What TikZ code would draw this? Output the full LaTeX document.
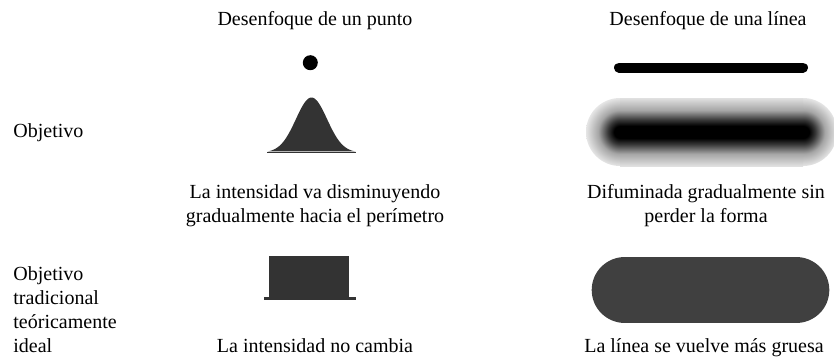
\documentclass[tikz,border=0pt]{standalone}
\usepackage{fontspec}
\setmainfont{Liberation Serif}
\usetikzlibrary{calc}

\pgfdeclareverticalshading{blurline}{100bp}{color(0bp)=(black!12); color(25bp)=(black!12); color(34bp)=(black!35); color(41bp)=(black!78); color(45.5bp)=(black); color(54.5bp)=(black); color(59bp)=(black!78); color(66bp)=(black!35); color(75bp)=(black!12); color(100bp)=(black!12)}
\pgfdeclareradialshading{blurend}{\pgfpoint{0bp}{0bp}}{color(0bp)=(black); color(4.5bp)=(black); color(9bp)=(black!78); color(16bp)=(black!35); color(25bp)=(black!10); color(50bp)=(black!10)}

\begin{document}
\begin{tikzpicture}[x=0.5pt, y=-0.5pt,
	lbl/.style={anchor=base, inner sep=0pt},
	ink/.style={fill=black!80}]
	\useasboundingbox (0,0) rectangle (834,360);

	\node[lbl] (hpoint) at (315,25) {Desenfoque de un punto};
	\node[lbl] (hline) at (708,25) {Desenfoque de una línea};
	\node[lbl, anchor=base west] (aim) at (13,137) {Objetivo};
	\node[lbl, anchor=base west, align=left] (aimideal) at (13,352) {Objetivo\\tradicional\\teóricamente\\ideal};

	% punto
	\fill (310.3,62.7) circle[radius=3.75pt];
	\fill[ink] plot[domain=-44:44, samples=80, smooth] ({311.5+\x}, {152.5-55*exp(-0.5*(\x/15.6)^2)}) -- cycle;
	\draw[black!80, line width=0.75pt] (267,152.5) -- (356,152.5);
	\fill[ink] (269.3,256) rectangle (349,298);
	\draw[black!80, line width=1.25pt] (264,298.5) -- (355.7,298.5);

	% linea
	\draw[line width=5pt, line cap=round] (619,67.5) -- (803,67.5);
	\shade[shading=blurend] (620,132) circle[radius=17pt];
	\shade[shading=blurend] (803,132) circle[radius=17pt];
	\shade[shading=blurline] (620,98) rectangle (803,166);
	\draw[black!75, line width=33.3pt, line cap=round] (625,290) -- (796,290);

	\node[lbl, align=center] (tpoint) at (315,222.5) {La intensidad va disminuyendo\\gradualmente hacia el perímetro};
	\node[lbl, align=center] (tline) at (706,222.5) {Difuminada gradualmente sin\\perder la forma};
	\node[lbl] (bpoint) at (315,352) {La intensidad no cambia};
	\node[lbl] (bline) at (704,352) {La línea se vuelve más gruesa};
\end{tikzpicture}
\end{document}
